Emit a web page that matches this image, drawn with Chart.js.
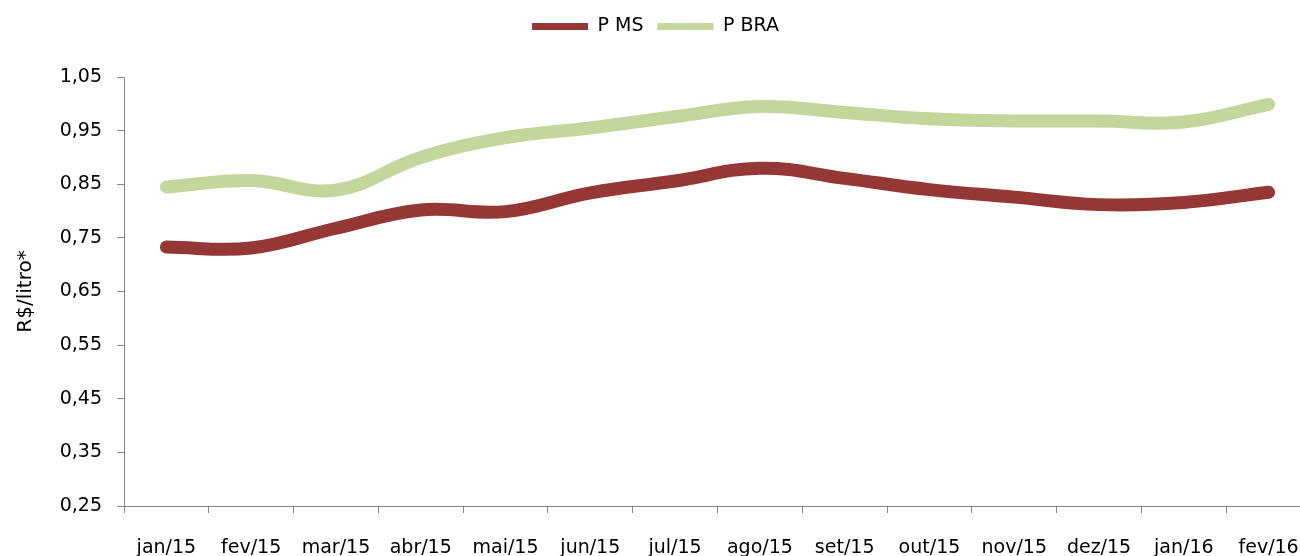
<!DOCTYPE html>
<html>
<head>
<meta charset="utf-8">
<script src="https://cdn.jsdelivr.net/npm/chart.js@4/dist/chart.umd.min.js"></script>
<style>
  html, body { margin: 0; padding: 0; background: #fff; overflow: hidden; }
  #wrap { width: 1300px; height: 556px; overflow: hidden; position: relative; }
  #priceChart { display: block; position: absolute; left: 0; top: 0; }
</style>
</head>
<body>
<div id="wrap"><canvas id="priceChart" width="1311" height="556"></canvas></div>
<script>
// Months on the x axis
var months = ['jan/15', 'fev/15', 'mar/15', 'abr/15', 'mai/15', 'jun/15', 'jul/15',
              'ago/15', 'set/15', 'out/15', 'nov/15', 'dez/15', 'jan/16', 'fev/16'];

// Price series, R$ per litre
var pMS  = [0.733, 0.731, 0.768, 0.802, 0.799, 0.834, 0.856, 0.880, 0.861, 0.840, 0.826, 0.812, 0.816, 0.835];
var pBRA = [0.845, 0.857, 0.839, 0.900, 0.937, 0.955, 0.976, 0.995, 0.984, 0.972, 0.968, 0.968, 0.966, 0.999];

// Y axis tick values
var yTicks = [0.25, 0.35, 0.45, 0.55, 0.65, 0.75, 0.85, 0.95, 1.05];

var axisGray = '#868686';
var fontFamily = '"DejaVu Sans", sans-serif';

// Fix legend height so the plot area starts where the reference does
var legendHeight = {
    id: 'legendHeight',
    beforeInit: function(chart) {
        var origFit = chart.legend.fit;
        chart.legend.fit = function() {
            origFit.bind(chart.legend)();
            this.height = 74;
        };
    }
};

var ctx = document.getElementById('priceChart').getContext('2d');
var chart = new Chart(ctx, {
    type: 'line',
    data: {
        labels: months,
        datasets: [
            {
                label: 'P MS',
                data: pMS,
                borderColor: '#953735',
                backgroundColor: '#953735'
            },
            {
                label: 'P BRA',
                data: pBRA,
                borderColor: '#C3D69B',
                backgroundColor: '#C3D69B'
            }
        ]
    },
    options: {
        responsive: false,
        animation: false,
        layout: { padding: { top: 3, left: 0, right: 0, bottom: 0 } },
        elements: {
            line: {
                borderWidth: 13,
                tension: 0.4,
                borderCapStyle: 'round',
                borderJoinStyle: 'round',
                fill: false
            },
            point: { radius: 0, hoverRadius: 0 }
        },
        plugins: {
            tooltip: { enabled: false },
            legend: {
                position: 'top',
                labels: {
                    color: '#000',
                    font: { family: fontFamily, size: 19 },
                    boxWidth: 56,
                    boxHeight: 7,
                    padding: 14,
                    generateLabels: function(chart) {
                        return chart.data.datasets.map(function(ds, i) {
                            return {
                                text: ds.label,
                                fillStyle: ds.borderColor,
                                strokeStyle: ds.borderColor,
                                lineWidth: 0,
                                fontColor: '#000',
                                datasetIndex: i,
                                hidden: false
                            };
                        });
                    }
                }
            }
        },
        scales: {
            x: {
                offset: true,
                grid: {
                    offset: true,
                    drawOnChartArea: false,
                    tickLength: 7,
                    color: axisGray
                },
                border: { color: axisGray, width: 1 },
                ticks: {
                    color: '#000',
                    font: { family: fontFamily, size: 19 },
                    maxRotation: 0,
                    autoSkip: false,
                    padding: 24
                },
                afterFit: function(scale) {
                    scale.height = 50;
                    scale.paddingLeft = 0;
                    scale.paddingRight = 0;
                }
            },
            y: {
                min: 0.25,
                max: 1.05,
                grid: {
                    drawOnChartArea: false,
                    tickLength: 7,
                    color: axisGray
                },
                border: { color: axisGray, width: 1 },
                ticks: {
                    color: '#000',
                    font: { family: fontFamily, size: 19 },
                    padding: 15,
                    callback: function(value) {
                        return value.toFixed(2).replace('.', ',');
                    }
                },
                afterBuildTicks: function(scale) {
                    scale.ticks = yTicks.map(function(v) { return { value: v }; });
                },
                title: {
                    display: true,
                    text: 'R$/litro*',
                    color: '#000',
                    font: { family: fontFamily, size: 20 },
                    padding: { top: 14, bottom: 0 }
                },
                afterFit: function(scale) { scale.width = 124; }
            }
        }
    },
    plugins: [legendHeight]
});
</script>
</body>
</html>
